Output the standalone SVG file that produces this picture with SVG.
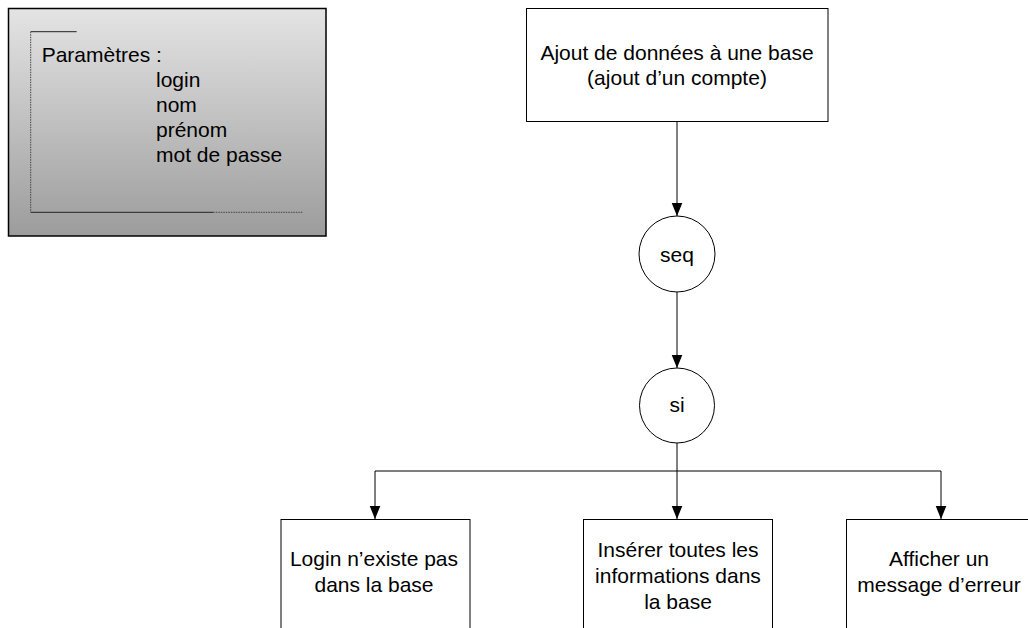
<svg xmlns="http://www.w3.org/2000/svg" width="1028" height="628" viewBox="0 0 1028 628">
<defs>
<linearGradient id="g" x1="0" y1="0" x2="0" y2="1">
<stop offset="0" stop-color="#e4e4e4"/>
<stop offset="1" stop-color="#9c9c9c"/>
</linearGradient>
<marker id="ah" markerWidth="13" markerHeight="16" refX="16" refY="6.5" orient="auto" markerUnits="userSpaceOnUse" viewBox="0 0 16 13">
<path d="M0,0 L16,6.5 L0,13 Z" fill="#000"/>
</marker>
</defs>
<style>
text{font-family:"Liberation Sans",Arial,sans-serif;font-size:21px;fill:#000}
.b text{text-anchor:middle}
.box{fill:#fff;stroke:#000;stroke-width:1}
.c{fill:#fff;stroke:#000;stroke-width:1}
.ln{fill:none;stroke:#000;stroke-width:1}
</style>
<rect width="1028" height="628" fill="#fff"/>
<g id="params">
<rect x="8.5" y="8.5" width="317.5" height="227.5" fill="url(#g)" stroke="#000" stroke-width="1.5"/>
<path d="M30.7,31.7 H76.7" stroke="#222" stroke-width="1" fill="none"/>
<path d="M30.7,31.7 V212.3" stroke="#444" stroke-width="1" stroke-dasharray="1.5,1" fill="none"/>
<path d="M30.7,212.3 H213.3" stroke="#222" stroke-width="1" fill="none"/>
<path d="M213.3,212.3 H303" stroke="#444" stroke-width="1" stroke-dasharray="1.5,1" fill="none"/>
<text x="41.7" y="62">Paramètres :</text>
<text x="156" y="87">login</text>
<text x="156" y="112">nom</text>
<text x="156" y="137">prénom</text>
<text x="156" y="162">mot de passe</text>
</g>
<g id="connectors" class="ln">
<path d="M677,122 V216" marker-end="url(#ah)"/>
<path d="M677,292 V368" marker-end="url(#ah)"/>
<path d="M677,443 V519" marker-end="url(#ah)"/>
<path d="M375,471 H941"/>
<path d="M375,471 V519" marker-end="url(#ah)"/>
<path d="M941,471 V519" marker-end="url(#ah)"/>
</g>
<g id="root" class="b">
<rect class="box" x="526.5" y="8.5" width="301.5" height="113"/>
<text x="677" y="59.5">Ajout de données à une base</text>
<text x="677" y="85">(ajout d’un compte)</text>
</g>
<g id="seq" class="b">
<circle class="c" cx="677" cy="254" r="38"/>
<text x="677" y="261.5">seq</text>
</g>
<g id="si" class="b">
<circle class="c" cx="677" cy="405.5" r="37.5"/>
<text x="677" y="412">si</text>
</g>
<g id="login" class="b">
<rect class="box" x="281" y="519.5" width="189" height="120"/>
<text x="374" y="566">Login n’existe pas</text>
<text x="374" y="592">dans la base</text>
</g>
<g id="inserer" class="b">
<rect class="box" x="583.5" y="519.5" width="189" height="120"/>
<text x="678" y="557">Insérer toutes les</text>
<text x="678" y="583">informations dans</text>
<text x="678" y="609">la base</text>
</g>
<g id="erreur" class="b">
<rect class="box" x="846.5" y="519.5" width="190" height="120"/>
<text x="939" y="566">Afficher un</text>
<text x="939" y="592">message d’erreur</text>
</g>
</svg>
